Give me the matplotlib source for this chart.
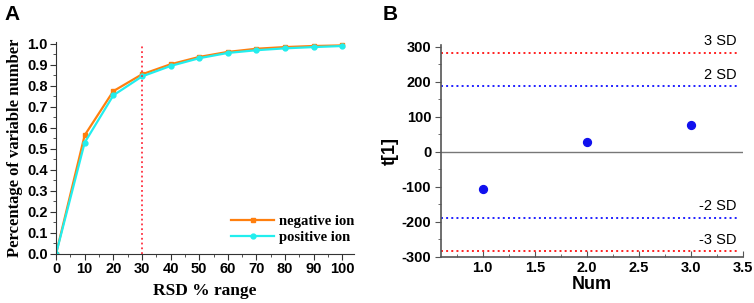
import matplotlib.pyplot as plt
from matplotlib.ticker import MultipleLocator

# panel A data
rsd_range = [0, 10, 20, 30, 40, 50, 60, 70, 80, 90, 100]
negative_ion = [0.0, 0.565, 0.775, 0.855, 0.903, 0.938, 0.962, 0.977, 0.985, 0.990, 0.993]
positive_ion = [0.0, 0.530, 0.755, 0.845, 0.895, 0.932, 0.957, 0.970, 0.979, 0.985, 0.990]
y_ticks_a = [0.0, 0.1, 0.2, 0.3, 0.4, 0.5, 0.6, 0.7, 0.8, 0.9, 1.0]
rsd_cutoff = 30

# panel B data
num = [1, 2, 3]
t1 = [-105, 27, 75]
x_ticks_b = [1.0, 1.5, 2.0, 2.5, 3.0, 3.5]
y_ticks_b = [-300, -200, -100, 0, 100, 200, 300]
sd_lines = [283, 188, -188, -283]
sd_labels = ["3 SD", "2 SD", "-2 SD", "-3 SD"]
sd_colors = ["#ff2020", "#2020ff", "#2020ff", "#ff2020"]

serif = "Liberation Serif"
sans = "Liberation Sans"

fig = plt.figure(figsize=(7.54, 3.03), dpi=100)

# ---- A ----
axA = fig.add_axes([0.0743, 0.162, 0.395, 0.700])
axA.plot(rsd_range, negative_ion, "-s", color="#ff7f0e", lw=1.6, ms=3.5,
         label="negative ion")
axA.plot(rsd_range, positive_ion, "-o", color="#22eeee", lw=1.6, ms=3.5,
         label="positive ion")
axA.plot([rsd_cutoff, rsd_cutoff], [0, 1.0], ":", color="#ff3040", lw=1.3)
axA.set_xlim(0, 104)
axA.set_ylim(0, 1.01)
axA.set_xticks(rsd_range)
axA.set_xticklabels([str(v) for v in rsd_range])
axA.set_yticks(y_ticks_a)
axA.set_yticklabels(["%.1f" % v for v in y_ticks_a])
axA.xaxis.set_minor_locator(MultipleLocator(5))
axA.yaxis.set_minor_locator(MultipleLocator(0.05))
for s in ["top", "right"]:
    axA.spines[s].set_visible(False)
for s in ["left", "bottom"]:
    axA.spines[s].set_color("#333333")
axA.tick_params(which="major", length=4, color="#333333", labelsize=10.5, pad=2)
axA.tick_params(which="minor", length=2, color="#333333")
for lab in axA.get_xticklabels() + axA.get_yticklabels():
    lab.set_fontfamily(sans)
    lab.set_fontweight("bold")
axA.set_xlabel("RSD % range", family=serif, weight="bold", fontsize=12.5, labelpad=5)
axA.set_ylabel("Percentage of variable number", family=serif, weight="bold",
               fontsize=12, labelpad=3)
axA.legend(loc="lower right", bbox_to_anchor=(1.045, -0.015), frameon=False,
           prop={"family": serif, "weight": "bold", "size": 10.5},
           handlelength=3.0, handletextpad=0.3, labelspacing=0.2)
fig.text(0.006, 0.935, "A", family=sans, weight="bold", fontsize=15)

# ---- B ----
axB = fig.add_axes([0.585, 0.152, 0.4005, 0.700])
axB.axhline(0, color="#777777", lw=1.0)
for y, lab, c in zip(sd_lines, sd_labels, sd_colors):
    axB.plot([0.6, 3.45], [y, y], ":", color=c, lw=1.4)
    axB.text(3.44, y + 12, lab, ha="right", va="bottom", family=sans, fontsize=10.5)
axB.scatter(num, t1, s=32, color="#1010ee", zorder=3)
axB.set_xlim(0.6, 3.5)
axB.set_ylim(-300, 305)
axB.set_xticks(x_ticks_b)
axB.set_xticklabels(["%.1f" % v for v in x_ticks_b])
axB.set_yticks(y_ticks_b)
axB.set_yticklabels([str(v) for v in y_ticks_b])
axB.xaxis.set_minor_locator(MultipleLocator(0.25))
axB.yaxis.set_minor_locator(MultipleLocator(50))
for s in ["top", "right"]:
    axB.spines[s].set_visible(False)
for s in ["left", "bottom"]:
    axB.spines[s].set_color("#555555")
    axB.spines[s].set_linewidth(1.2)
axB.tick_params(axis="x", which="both", direction="in", color="#555555")
axB.tick_params(which="major", length=4, color="#555555", labelsize=10.5, pad=3)
axB.tick_params(which="minor", length=2, color="#555555")
for lab in axB.get_xticklabels() + axB.get_yticklabels():
    lab.set_fontfamily(sans)
    lab.set_fontweight("bold")
axB.set_xlabel("Num", family=sans, weight="bold", fontsize=13, labelpad=1)
axB.set_ylabel("t[1]", family=sans, weight="bold", fontsize=13, labelpad=2)
fig.text(0.508, 0.935, "B", family=sans, weight="bold", fontsize=15)

fig.savefig("out.png", dpi=100)
